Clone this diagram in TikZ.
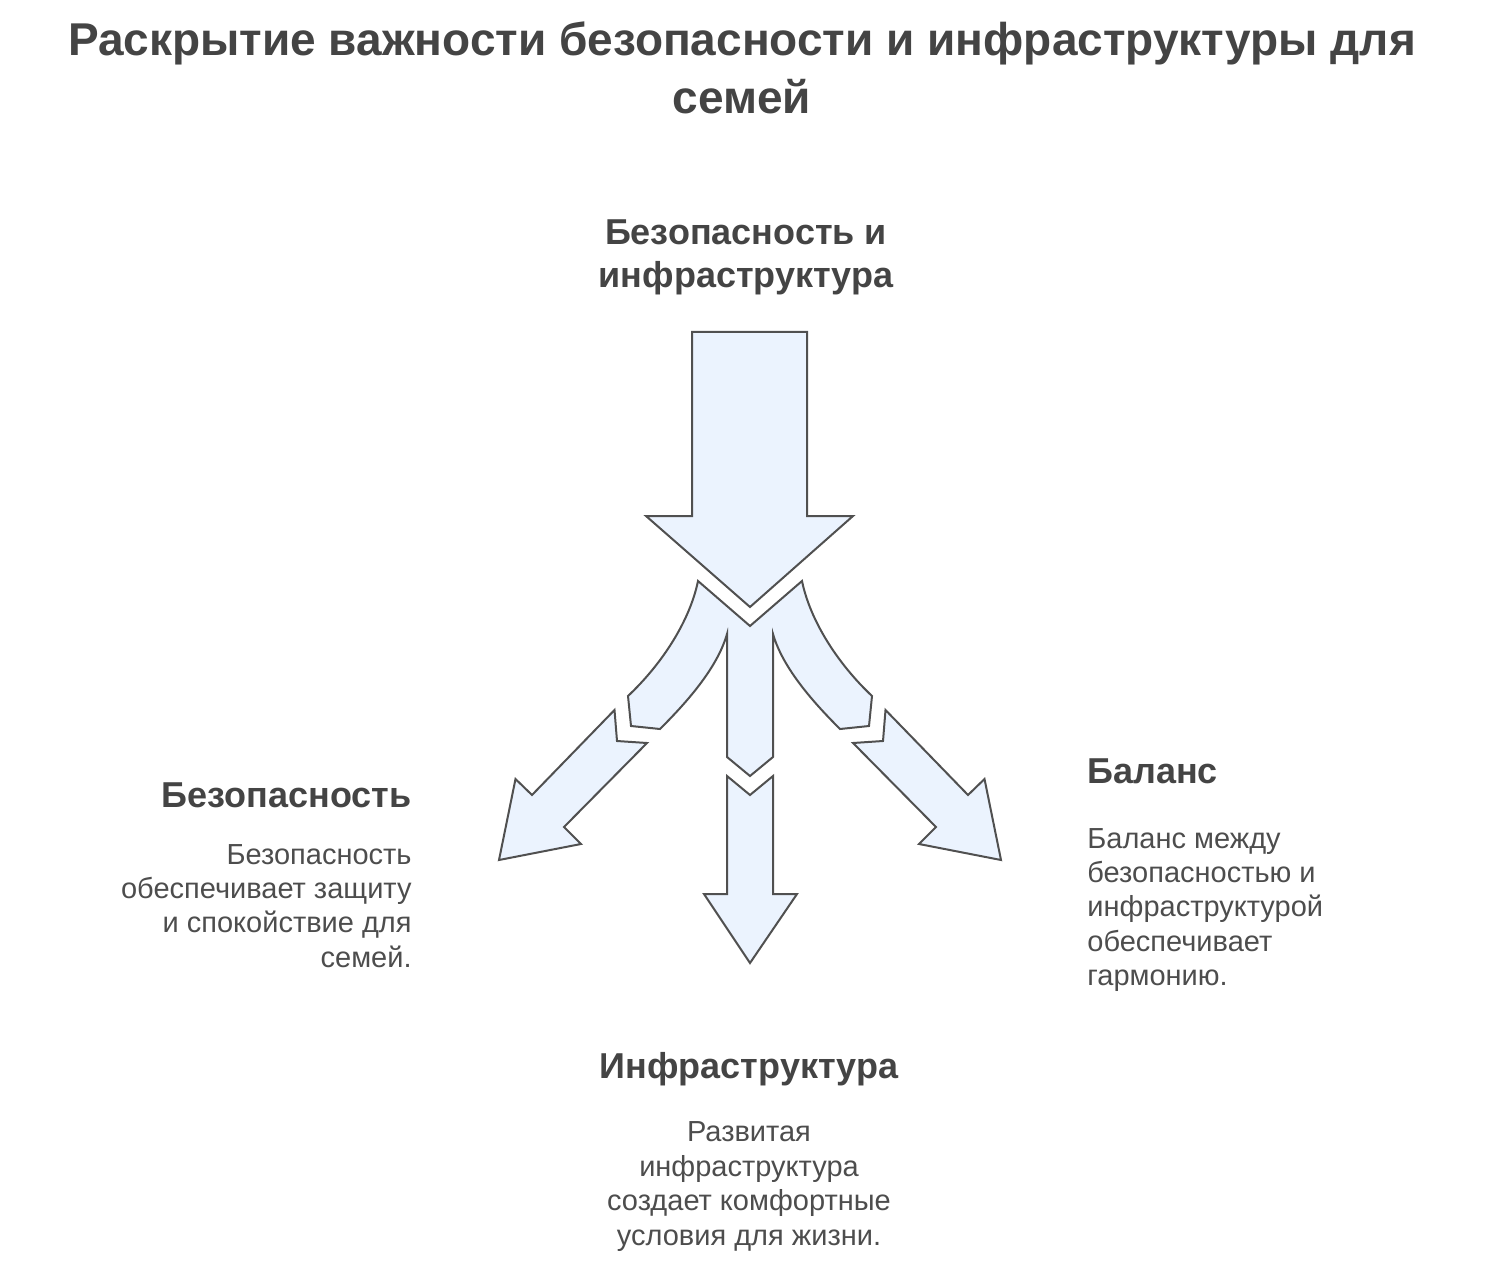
\documentclass[tikz,border=0pt]{standalone}
\usepackage{fontspec}
\setmainfont{Liberation Sans}
\usetikzlibrary{positioning}
\definecolor{arrowfill}{HTML}{EBF3FE}
\definecolor{arrowline}{HTML}{505050}
\definecolor{headgray}{HTML}{444444}
\definecolor{bodygray}{HTML}{4D4D4D}

\begin{document}
\begin{tikzpicture}[x=0.5pt,y=-0.5pt,
  blk/.style = {draw=arrowline, fill=arrowfill, line width=1pt, line join=miter},
  title/.style = {font=\bfseries\fontsize{23}{29}\selectfont, text=headgray, align=center, inner sep=0pt},
  head/.style = {font=\bfseries\fontsize{18}{21.5}\selectfont, text=headgray, inner sep=0pt},
  body/.style = {font=\fontsize{14.5}{17.2}\selectfont, text=bodygray, inner sep=0pt}]
\useasboundingbox (0,0) rectangle (1492,1262);

% title
\node[title, anchor=north] (title) at (742,21) {Раскрытие важности безопасности и инфраструктуры для\\семей};

% big arrow from the top
\draw[blk] (692,332) -- (807,332) -- (807,516) -- (853,516) -- (750,607) -- (646,516) -- (692,516) -- cycle;

% the fork
\draw[blk] (628,696) .. controls (663,663) and (690,620) .. (698,581) -- (750,626) -- (802,581)
  .. controls (810,620) and (837,663) .. (872,696) -- (869,726) -- (840,729)
  .. controls (815,704) and (783,669) .. (773,634) -- (773,757) -- (750,776) -- (727,757) -- (727,634)
  .. controls (717,669) and (685,704) .. (660,729) -- (631,726) -- cycle;

% three arrows out
\draw[blk] (614.5,710) -- (617,741) -- (647,743) -- (564,827) -- (581,844) -- (499,860) -- (515.5,779) -- (532,795) -- cycle;
\draw[blk] (727,776) -- (750,795) -- (773,776) -- (773,894) -- (797,894) -- (750,963) -- (704,894) -- (727,894) -- cycle;
\draw[blk] (885.5,710) -- (883,741) -- (853,743) -- (936,827) -- (919,844) -- (1001,860) -- (984.5,779) -- (968,795) -- cycle;

% texts
\node[head, align=center, anchor=north] (topHead) at (746,219) {Безопасность и\\инфраструктура};

\node[head, anchor=base east] (safeHead) at (412,807) {Безопасность};
\node[body, align=right, below=18pt of safeHead.south east, anchor=north east] (safeText)
  {Безопасность\\обеспечивает защиту\\и спокойствие для\\семей.};

\node[head, anchor=base west] (balHead) at (1087,783) {Баланс};
\node[body, align=left, below=22pt of balHead.south west, anchor=north west] (balText)
  {Баланс между\\безопасностью и\\инфраструктурой\\обеспечивает\\гармонию.};

\node[head, anchor=base] (infHead) at (749,1078) {Инфраструктура};
\node[body, align=center, below=17.8pt of infHead.south, anchor=north] (infText)
  {Развитая\\инфраструктура\\создает комфортные\\условия для жизни.};
\end{tikzpicture}
\end{document}
